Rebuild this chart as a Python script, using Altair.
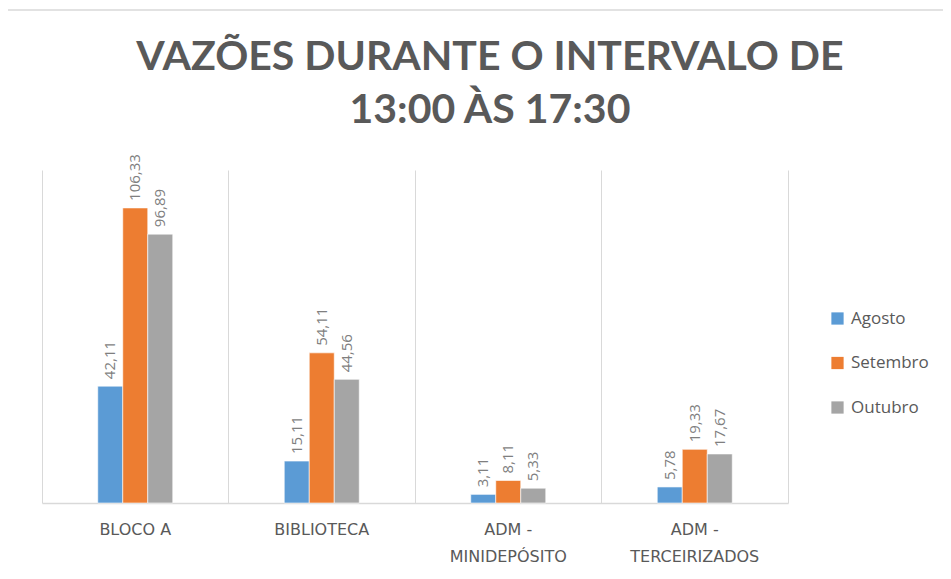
import altair as alt
import pandas as pd

categories = ["BLOCO A", "BIBLIOTECA", "ADM - MINIDEPÓSITO", "ADM - TERCEIRIZADOS"]
months = ["Agosto", "Setembro", "Outubro"]
agosto = [42.11, 15.11, 3.11, 5.78]
setembro = [106.33, 54.11, 8.11, 19.33]
outubro = [96.89, 44.56, 5.33, 17.67]
colors = ["#5B9BD5", "#ED7D31", "#A5A5A5"]
title_lines = ["VAZÕES DURANTE O INTERVALO DE", "13:00 ÀS 17:30"]

rows = []
for m, vals in zip(months, [agosto, setembro, outubro]):
    for c, v in zip(categories, vals):
        rows.append({"local": c, "mes": m, "vazao": v,
                     "rotulo": f"{v:.2f}".replace(".", ",")})
df = pd.DataFrame(rows)

GRID = "#D9D9D9"
TXT = "#595959"

x_enc = alt.X(
    "local:N", sort=categories, title=None,
    scale=alt.Scale(paddingInner=0, paddingOuter=0),
    axis=alt.Axis(
        labelAngle=0, grid=True, bandPosition=0, gridColor=GRID, gridWidth=1,
        ticks=False, domainColor=GRID, domainWidth=1.5,
        labelFont="DejaVu Sans", labelFontSize=16, labelColor=TXT,
        labelPadding=18, labelLineHeight=27,
        labelExpr="indexof(datum.label, ' - ') > 0 ? [slice(datum.label, 0, indexof(datum.label, ' - ') + 2), slice(datum.label, indexof(datum.label, ' - ') + 3)] : datum.label",
    ),
)
xo_enc = alt.XOffset("mes:N", sort=months,
                     scale=alt.Scale(paddingInner=0, paddingOuter=0, range=[55.75, 130.75]))
y_enc = alt.Y(
    "vazao:Q", title=None,
    scale=alt.Scale(domain=[0, 120], nice=False),
    axis=alt.Axis(orient="right", labels=False, ticks=False, grid=False,
                  domain=True, domainColor=GRID, domainWidth=1),
)

base = alt.Chart(df).encode(x=x_enc, xOffset=xo_enc, y=y_enc)

bars = base.mark_bar(stroke="white", strokeWidth=0.6).encode(
    color=alt.Color(
        "mes:N", sort=months,
        scale=alt.Scale(domain=months, range=colors),
        legend=alt.Legend(
            title=None, orient="none", legendX=787, legendY=140,
            symbolType="square", symbolSize=150, symbolStrokeWidth=0,
            labelFont="Open Sans", labelFontSize=17, labelColor=TXT,
            rowPadding=26.5, padding=0, labelOffset=5,
        ),
    )
)

labels = base.mark_text(
    angle=270, align="left", baseline="middle", dx=7,
    font="Open Sans", fontSize=15, color="#7F7F7F",
).encode(text="rotulo:N")

frame = alt.Chart(pd.DataFrame({"a": [0]})).mark_rect(
    fillOpacity=0, stroke=GRID, strokeWidth=1.5
).encode(x=alt.value(-35), x2=alt.value(960), y=alt.value(-160), y2=alt.value(420))

chart = alt.layer(frame, bars, labels).properties(
    width=746, height=333,
    autosize="none",
    padding={"left": 34, "top": 162, "right": 155, "bottom": 68},
    title=alt.Title(
        title_lines, fontSize=41, font="Lato", fontWeight="bold", color=TXT,
        anchor="middle", dx=75, offset=-123, lineHeight=53,
    ),
).configure_view(stroke=None)

chart.save("out.html", embed_options={"renderer": "svg", "actions": False})
